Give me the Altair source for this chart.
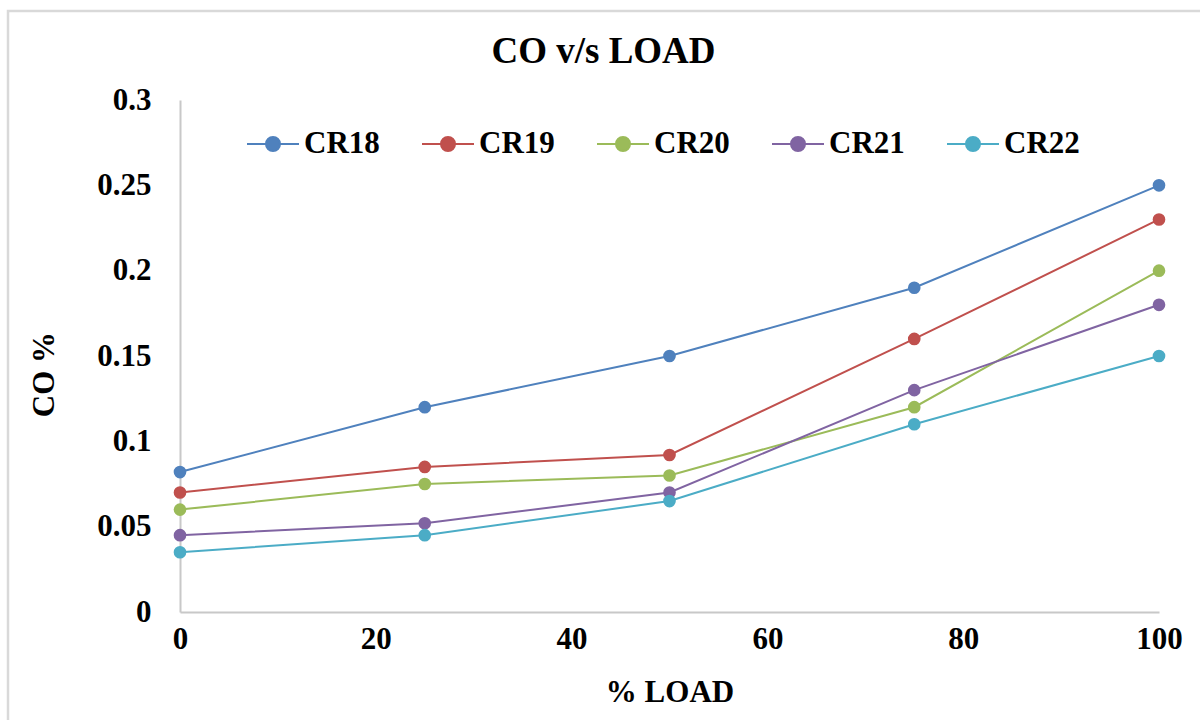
import altair as alt
import pandas as pd

loads = [0, 25, 50, 75, 100]
cr18 = [0.082, 0.12, 0.15, 0.19, 0.25]
cr19 = [0.07, 0.085, 0.092, 0.16, 0.23]
cr20 = [0.06, 0.075, 0.08, 0.12, 0.20]
cr21 = [0.045, 0.052, 0.07, 0.13, 0.18]
cr22 = [0.035, 0.045, 0.065, 0.11, 0.15]
series = ["CR18", "CR19", "CR20", "CR21", "CR22"]
colors = ["#4F81BD", "#C0504D", "#9BBB59", "#8064A2", "#4BACC6"]

rows = []
for name, vals in zip(series, [cr18, cr19, cr20, cr21, cr22]):
    for l, v in zip(loads, vals):
        rows.append({"load": l, "co": v, "series": name})
df = pd.DataFrame(rows)

FONT = "Liberation Serif"
W, H = 979, 512
FS = 31

sym = "M-1,0H-0.27M0.27,0H1M-0.27,0A0.27,0.27 0 1,1 0.27,0A0.27,0.27 0 1,1 -0.27,0Z"

color = alt.Color(
    "series:N",
    scale=alt.Scale(domain=series, range=colors),
    legend=alt.Legend(
        title=None, orient="none", direction="horizontal", columns=5,
        legendX=66, legendY=17,
        symbolType=sym, symbolSize=2704, symbolStrokeWidth=2,
        labelFont=FONT, labelFontSize=FS, labelFontWeight="bold", labelColor="black",
        labelOffset=4, columnPadding=38,
    ),
)

x = alt.X("load:Q", scale=alt.Scale(domain=[0, 100], nice=False),
          axis=alt.Axis(title="% LOAD", values=[0, 20, 40, 60, 80, 100], grid=False,
                        ticks=False, domainColor="#c8c8c8", domainWidth=2,
                        labelPadding=12, titlePadding=23, labelFlush=False))
y = alt.Y("co:Q", scale=alt.Scale(domain=[0, 0.3], nice=False),
          axis=alt.Axis(title="CO %", values=[0, 0.05, 0.1, 0.15, 0.2, 0.25, 0.3], grid=False,
                        ticks=False, domainColor="#c8c8c8", domainWidth=2,
                        labelPadding=29, titlePadding=36, titleY=274, labelFlush=False,
                        labelExpr="datum.value == 0 ? '0' : format(datum.value, '')"))

lines = alt.Chart(df).mark_line(strokeWidth=2).encode(x=x, y=y, color=color, detail="series:N")
points = alt.Chart(df).mark_point(filled=True, size=160, opacity=1).encode(
    x="load:Q", y="co:Q", color=alt.Color("series:N", scale=alt.Scale(domain=series, range=colors), legend=None))

frame = alt.Chart(pd.DataFrame({"a": [0]})).mark_rect(
    filled=False, stroke="#d9d9d9", strokeWidth=2.5).encode(
    x=alt.value(-172), x2=alt.value(1030), y=alt.value(-89), y2=alt.value(630))

chart = alt.layer(frame, lines, points).properties(
    width=W, height=H,
    title=alt.TitleParams("CO v/s LOAD", font=FONT, fontSize=37, fontWeight="bold",
                          color="black", anchor="middle", offset=-61, dx=-66),
    autosize=alt.AutoSizeParams(type="none"),
    padding={"left": 180, "top": 100, "right": 41, "bottom": 108},
).configure_view(stroke=None).configure_axis(
    labelFont=FONT, labelFontSize=FS, labelFontWeight="bold", labelColor="black",
    titleFont=FONT, titleFontSize=FS, titleFontWeight="bold", titleColor="black",
)

chart.save("out.html", embed_options={"renderer": "svg", "actions": False})
